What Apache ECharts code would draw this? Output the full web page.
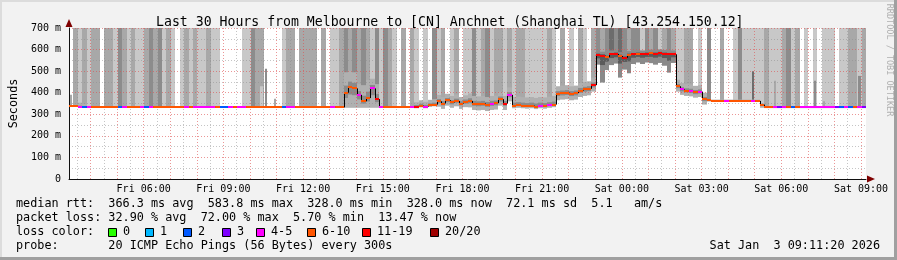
<!DOCTYPE html>
<html><head><meta charset="utf-8">
<script src="https://cdn.jsdelivr.net/npm/echarts@6/dist/echarts.min.js"></script>
<style>html,body{margin:0;padding:0;background:#f2f2f2}#c{width:897px;height:260px}</style>
</head><body><div id="c"></div>
<script>
// ---- data (10-minute bins starting Fri 03:11:20, minutes since Fri 00:00) ----
const startMin = 191 + 1/3;
const binMinutes = 10;
const median = [
337,337,332,332,332,332,332,332,332,332,
332,332,332,332,332,332,332,332,332,332,
332,332,332,332,332,332,332,332,332,332,
332,332,332,332,332,332,332,332,332,332,
332,332,332,332,332,332,332,332,332,332,
332,332,332,332,332,332,332,332,332,332,
332,332,400,425,420,390,360,375,420,370,
332,332,332,332,332,332,332,332,336,340,
336,342,345,360,350,365,355,362,350,358,
362,350,348,350,345,350,352,370,350,390,
340,342,340,338,340,336,340,338,342,345,
395,398,400,395,398,410,415,418,435,575,
572,565,578,580,570,562,575,578,580,578,
580,582,580,583,580,578,578,430,415,410,
408,402,405,370,364,362,362,362,362,362,
362,362,362,362,362,362,345,332,332,332,
332,332,332,332,332,332,332,332,332,332,
332,332,332,332,332,332,332,332,332,332];
// loss class index: 0:'0' 1:'1' 2:'2' 3:'3' 4:'4-5' 5:'6-10' 6:'11-19' 7:'20/20'
const lossClass = [
5,5,4,2,4,5,5,5,5,5,
5,2,4,5,5,5,4,2,4,5,
5,5,5,5,5,5,4,5,4,4,
4,4,4,5,2,2,4,5,4,4,
5,5,5,5,5,5,5,5,2,4,
4,5,5,5,5,5,5,5,5,4,
5,5,5,5,5,4,5,5,4,6,
4,5,5,5,5,5,5,4,6,5,
4,5,5,5,5,5,5,5,5,5,
5,5,5,5,5,4,5,5,6,4,
5,5,5,5,5,5,4,5,4,5,
5,5,5,5,5,5,5,5,6,6,
6,5,6,6,5,6,5,6,5,6,
6,5,6,6,6,6,6,5,4,5,
4,5,4,5,5,5,5,5,4,5,
5,5,5,5,4,5,5,5,5,4,
3,4,5,2,5,4,4,4,4,4,
4,4,4,3,2,4,2,5,4,3];
// number of slow pings above the chart top (smoke shade level 0..4)
const tallShade = [
0,2,1,2,1,2,2,0,2,2,
1,3,2,1,2,1,1,2,3,2,
3,1,2,1,0,1,2,1,2,1,
1,2,1,1,0,0,0,0,0,1,
1,3,2,2,0,0,0,0,1,2,
2,0,2,2,2,2,0,2,0,1,
1,2,3,2,3,2,3,2,1,3,
1,3,2,1,0,2,0,2,1,0,
1,0,3,1,2,0,1,2,0,1,
1,3,1,2,3,1,2,2,1,2,
1,2,2,1,1,1,1,1,2,1,
0,2,0,1,0,2,1,0,2,3,
2,3,4,3,4,3,2,3,3,1,
3,2,3,1,2,3,2,1,1,2,
2,0,1,0,3,0,0,2,0,0,
1,3,1,1,1,1,1,2,1,1,
1,2,3,1,2,0,1,0,1,0,
1,1,1,0,1,1,2,2,1,2];
// dense smoke extent above / below the median (ms)
const smokeUp = [
6,8,22,15,6,6,6,6,6,6,
6,6,6,6,6,6,6,6,6,6,
6,6,6,6,6,6,6,6,6,6,
6,6,6,6,6,6,6,6,6,6,
6,6,6,6,6,6,6,6,6,6,
6,6,6,6,6,6,6,6,6,6,
6,6,95,75,75,50,75,85,45,70,
6,6,6,6,6,6,6,6,20,25,
22,25,25,30,30,30,30,30,30,30,
35,35,35,35,35,35,35,35,35,35,
40,40,40,40,40,40,40,40,40,40,
35,35,35,35,35,35,35,35,35,18,
18,18,18,18,18,18,18,18,18,18,
18,18,18,18,18,18,18,30,30,30,
30,30,30,30,6,6,6,6,6,6,
6,6,6,6,6,6,6,4,4,4,
4,4,4,4,4,4,4,4,4,4,
4,4,4,4,4,4,4,4,4,4];
const smokeDown = [
3,3,3,3,3,3,3,3,3,3,
3,3,3,3,3,3,3,3,3,3,
3,3,3,3,3,3,3,3,3,3,
3,3,3,3,3,3,3,3,3,3,
3,3,3,3,3,3,3,3,3,3,
3,3,3,3,3,3,3,3,3,3,
3,3,70,95,90,60,30,45,90,40,
3,3,3,3,3,3,3,3,8,8,
8,8,8,25,25,25,25,25,25,25,
30,30,30,30,30,30,30,30,30,30,
12,12,12,12,12,12,12,12,12,12,
30,30,30,30,30,30,30,30,30,45,
125,60,50,45,100,55,85,45,40,45,
40,45,50,45,55,85,40,25,25,25,
25,25,25,25,5,5,5,5,5,5,
5,5,5,5,5,5,15,3,3,3,
3,3,3,3,3,3,3,3,3,3,
3,3,3,3,3,3,3,3,3,3];
// isolated short smoke spikes
const spikeBins   = [0,  27, 29, 43, 44, 46, 144,154,159,168,170,178];
const spikeTops   = [390,411,375,430,511,372,446,500,455,455,360,478];
const spikeShades = [2,  1,  1,  1,  3,  2,  3,  4,  2,  3,  2,  3];
const xLabelValues = [360,540,720,900,1080,1260,1440,1620,1800,1980];
const yMax = 700;

// ---- styles ----
const lossColors = ['#26ff00','#00b8ff','#0059ff','#7e00ff','#ff00ff','#ff5500','#ff0000','#a00000'];
const lossLabels = ['0','1','2','3','4-5','6-10','11-19','20/20'];
const shadeColors = [null,'#c8c8c8','#a8a8a8','#8c8c8c','#6c6c6c'];
const MONO = '"DejaVu Sans Mono", monospace';

const endMin = startMin + 1800;
const minorGrid = [], majorGrid = [];
for (let m = 210; m < endMin; m += 30) { (m % 60 === 0 ? majorGrid : minorGrid).push({xAxis: m}); }

const binData = median.map((m, i) => [startMin + i * binMinutes, m]);

function geom(params, api) {
  const t = api.value(0);
  const xa = Math.round(api.coord([t, 0])[0]);
  const xb = Math.round(api.coord([t + binMinutes, 0])[0]);
  const Y = v => api.coord([t, Math.min(Math.max(v, 0), yMax)])[1];
  return {xa, w: xb - xa, Y};
}
function rect(x, y1, w, y2, fill) {
  const top = Math.min(y1, y2), h = Math.abs(y2 - y1);
  return {type: 'rect', shape: {x: x, y: top, width: w, height: Math.max(h, 1)}, style: {fill: fill}};
}
function renderSmoke(params, api) {
  const i = params.dataIndex;
  const g = geom(params, api), Y = g.Y, m = median[i];
  const ch = [];
  if (tallShade[i]) ch.push(rect(g.xa, Y(yMax), g.w, Y(m), shadeColors[tallShade[i]]));
  const k = spikeBins.indexOf(i);
  if (k >= 0) {
    const sw = Math.max(2, Math.round(g.w / 2));
    ch.push(rect(g.xa + Math.round((g.w - sw) / 2), Y(spikeTops[k]), sw, Y(m), shadeColors[spikeShades[k]]));
  }
  const dark = m > 500;
  ch.push(rect(g.xa, Y(m + smokeUp[i]), g.w, Y(m - smokeDown[i]), dark ? '#8a8a8a' : '#b0b0b0'));
  ch.push(rect(g.xa, Y(m + smokeUp[i] * 0.35), g.w, Y(m - smokeDown[i] * 0.35), dark ? '#5a5a5a' : '#8a8a8a'));
  return {type: 'group', children: ch};
}
function renderMedian(params, api) {
  const i = params.dataIndex;
  const g = geom(params, api), Y = g.Y, m = median[i];
  const ch = [];
  if (i > 0 && median[i - 1] !== m) {
    ch.push({type: 'line', shape: {x1: g.xa + 0.5, y1: Y(median[i - 1]), x2: g.xa + 0.5, y2: Y(m)},
             style: {stroke: '#000', lineWidth: 1}});
  }
  ch.push({type: 'rect', shape: {x: g.xa, y: Math.round(Y(m)) - 1, width: g.w, height: 2},
           style: {fill: lossColors[lossClass[i]]}});
  return {type: 'group', children: ch};
}

function fmtX(v) {
  const day = v < 1440 ? 'Fri' : 'Sat';
  const h = Math.floor((v % 1440) / 60);
  return day + ' ' + String(h).padStart(2, '0') + ':00';
}

const textLines = [
  'median rtt:  366.3 ms avg  583.8 ms max  328.0 ms min  328.0 ms now  72.1 ms sd  5.1   am/s',
  'packet loss: 32.90 % avg  72.00 % max  5.70 % min  13.47 % now',
  'loss color:',
  'probe:       20 ICMP Echo Pings (56 Bytes) every 300s'
];
const boxX = [108, 145, 183, 222, 256, 307, 362, 430];
const graphics = [];
textLines.forEach((s, j) => graphics.push({type: 'text', x: 16, y: 204 + j * 14,
  style: {text: s, font: '11.8px ' + MONO, fill: '#000', verticalAlign: 'middle'}}));
lossLabels.forEach((s, j) => {
  graphics.push({type: 'rect', shape: {x: boxX[j] + 0.5, y: 228.5, width: 8, height: 8},
    style: {fill: lossColors[j], stroke: '#000', lineWidth: 1}});
  graphics.push({type: 'text', x: boxX[j] + 15, y: 232,
    style: {text: s, font: '11.8px ' + MONO, fill: '#000', verticalAlign: 'middle'}});
});
graphics.push({type: 'text', x: 880, y: 246, style: {text: 'Sat Jan  3 09:11:20 2026', font: '11.8px ' + MONO, fill: '#000', align: 'right', verticalAlign: 'middle'}});
graphics.push({type: 'text', x: 889, y: 60, rotation: -Math.PI / 2,
  style: {text: 'RRDTOOL / TOBI OETIKER', font: '8.5px ' + MONO, fill: '#b0b0b0', align: 'center', verticalAlign: 'middle'}});
// frame
graphics.push({type: 'rect', shape: {x: 0, y: 0, width: 897, height: 2}, style: {fill: '#dcdcdc'}, z: 100});
graphics.push({type: 'rect', shape: {x: 0, y: 0, width: 2, height: 260}, style: {fill: '#dcdcdc'}, z: 100});
graphics.push({type: 'rect', shape: {x: 0, y: 257, width: 897, height: 3}, style: {fill: '#a0a0a0'}, z: 100});
graphics.push({type: 'rect', shape: {x: 894, y: 0, width: 3, height: 260}, style: {fill: '#a0a0a0'}, z: 100});

const chart = echarts.init(document.getElementById('c'), null, {renderer: 'canvas'});
chart.setOption({
  animation: false,
  backgroundColor: '#f2f2f2',
  title: {text: 'Last 30 Hours from Melbourne to [CN] Anchnet (Shanghai TL) [43.254.150.12]',
    left: 151, top: 11, textStyle: {fontFamily: MONO, fontSize: 13.2, fontWeight: 'normal', color: '#000'}},
  grid: {left: 66, right: 31, top: 28, bottom: 81, show: true, backgroundColor: '#fff', borderWidth: 0},
  xAxis: [{
    type: 'value', min: startMin, max: endMin, z: 3,
    axisLine: {show: true, onZero: false, lineStyle: {color: '#101010'}},
    axisTick: {show: false}, splitLine: {show: false},
    axisLabel: {customValues: xLabelValues, formatter: fmtX, fontFamily: MONO, fontSize: 10, color: '#000', margin: 5,
      showMinLabel: true, showMaxLabel: true, hideOverlap: false}
  }, {
    type: 'value', min: startMin, max: endMin, position: 'bottom', z: 4,
    axisLine: {show: true, onZero: false, symbol: ['none', 'triangle'], symbolSize: [7, 8], symbolOffset: [0, 5],
      lineStyle: {color: '#7f0000', width: 0}},
    axisTick: {show: false}, axisLabel: {show: false}, splitLine: {show: false}
  }],
  yAxis: [{
    type: 'value', min: 0, max: yMax, interval: 100, z: 3,
    name: 'Seconds', nameLocation: 'middle', nameGap: 49, nameRotate: 90,
    nameTextStyle: {fontFamily: MONO, fontSize: 11.8, color: '#000'},
    axisLine: {show: true, lineStyle: {color: '#101010'}},
    axisTick: {show: false},
    axisLabel: {formatter: v => v === 0 ? '0' : v + ' m', fontFamily: MONO, fontSize: 10, color: '#000', margin: 8},
    splitLine: {show: true, lineStyle: {color: 'rgba(222,80,80,0.6)', type: [1, 2]}},
    minorTick: {show: false, splitNumber: 2},
    minorSplitLine: {show: true, lineStyle: {color: 'rgba(140,140,140,0.5)', type: [1, 2]}}
  }, {
    type: 'value', min: 0, max: yMax, position: 'left', z: 4,
    axisLine: {show: true, symbol: ['none', 'triangle'], symbolSize: [7, 8], symbolOffset: [0, 5],
      lineStyle: {color: '#7f0000', width: 0}},
    axisTick: {show: false}, axisLabel: {show: false}, splitLine: {show: false}
  }],
  series: [
    {type: 'custom', name: 'smoke', renderItem: renderSmoke, data: binData, encode: {x: 0, y: 1}, clip: true, z: 2, silent: true},
    {type: 'line', name: 'minor-grid', data: [], z: 3, silent: true,
      markLine: {silent: true, symbol: 'none', label: {show: false}, animation: false,
        lineStyle: {color: 'rgba(140,140,140,0.5)', type: [1, 2], width: 1}, data: minorGrid}},
    {type: 'line', name: 'major-grid', data: [], z: 3, silent: true,
      markLine: {silent: true, symbol: 'none', label: {show: false}, animation: false,
        lineStyle: {color: 'rgba(222,80,80,0.6)', type: [1, 2], width: 1}, data: majorGrid}},
    {type: 'custom', name: 'median', renderItem: renderMedian, data: binData, encode: {x: 0, y: 1}, clip: true, z: 5, silent: true}
  ],
  graphic: graphics
});
</script></body></html>
